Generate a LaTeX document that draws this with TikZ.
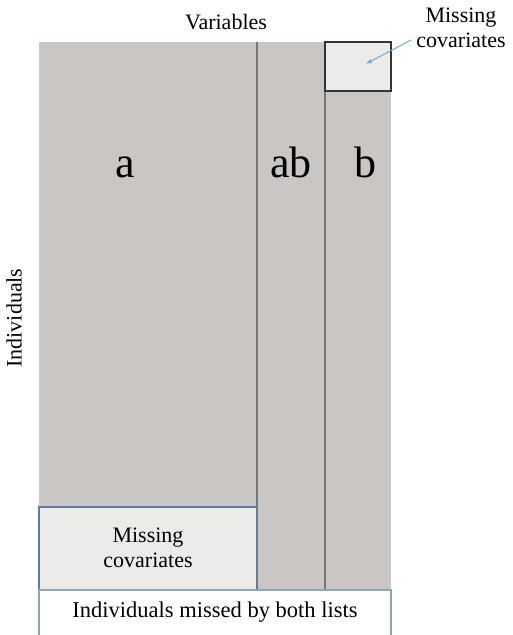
\documentclass[tikz,border=0pt]{standalone}
\usepackage{fontspec}
\setmainfont{Liberation Serif}
\definecolor{blockgray}{RGB}{201,198,196}
\definecolor{speckle}{RGB}{236,235,233}
\definecolor{splitline}{RGB}{118,118,120}
\definecolor{boxblue}{RGB}{96,124,152}
\definecolor{arrowblue}{RGB}{120,166,208}

\begin{document}
\begin{tikzpicture}[x=1pt,y=-1pt,font=\fontsize{22}{25}\selectfont]
  \useasboundingbox (0,0) rectangle (513,635);
  \fill[blockgray] (39,42) rectangle (391,590);
  \draw[splitline,line width=1.6pt] (257,42) -- (257,590);
  \draw[splitline,line width=1.6pt] (325,42) -- (325,590);
  \draw[fill=speckle,draw=black!80,line width=1.6pt] (325,42) rectangle (391,91);
  \draw[fill=speckle,draw=boxblue,line width=1.2pt] (39,507) rectangle (257,590);
  \draw[boxblue!70,line width=1.4pt] (39,640) -- (39,590) -- (391,590) -- (391,640);
  \path (226,22) node (vars) {Variables};
  \path (14,318) node[rotate=90] (indiv) {Individuals};
  \path (125,177) node[anchor=base,font=\fontsize{44}{48}\selectfont] (a) {a};
  \path (291,177) node[anchor=base,font=\fontsize{44}{48}\selectfont] (ab) {ab};
  \path (365,177) node[anchor=base,font=\fontsize{44}{48}\selectfont] (b) {b};
  \path (148,548) node[align=center] (mcleft) {Missing\\covariates};
  \path (461,28) node[align=center] (mcright) {Missing\\covariates};
  \path (358,68) coordinate (boxmid);
  \path (215,612) node[font=\fontsize{22.5}{25}\selectfont] (both) {Individuals missed by both lists};
  \draw[arrowblue,line width=1pt,-latex,shorten <=2pt,shorten >=9pt] ([yshift=-11pt]mcright.west) -- (boxmid);
\end{tikzpicture}
\end{document}
